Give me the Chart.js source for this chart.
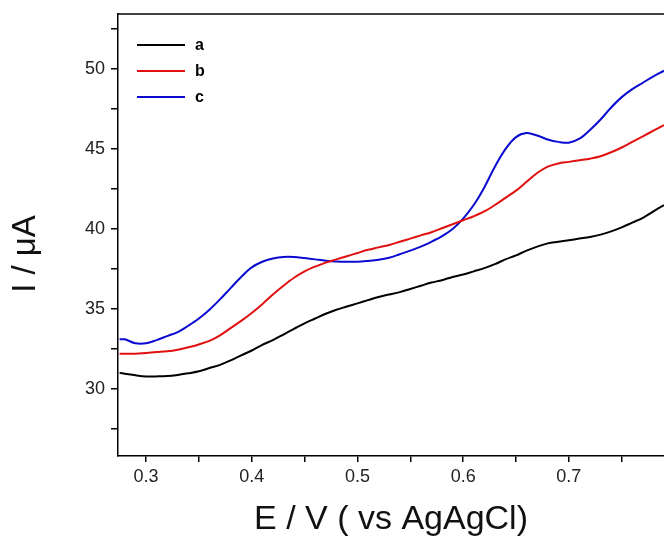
<!DOCTYPE html>
<html>
<head>
<meta charset="utf-8">
<script src="https://cdn.jsdelivr.net/npm/chart.js@4"></script>
<style>
  html, body { margin: 0; padding: 0; background: #fff; }
  #wrap { width: 664px; height: 540px; }
</style>
</head>
<body>
<div id="wrap"><canvas id="dpvChart" width="664" height="540"></canvas></div>
<script>
const potentials = [0.275, 0.28, 0.29, 0.30, 0.31, 0.32, 0.33, 0.34, 0.35, 0.36, 0.37, 0.38, 0.39,
  0.40, 0.41, 0.42, 0.43, 0.44, 0.45, 0.46, 0.47, 0.48, 0.49, 0.50, 0.51, 0.52, 0.53, 0.54, 0.55,
  0.56, 0.57, 0.58, 0.59, 0.60, 0.61, 0.62, 0.63, 0.64, 0.65, 0.66, 0.67, 0.68, 0.69, 0.70, 0.71,
  0.72, 0.73, 0.74, 0.75, 0.76, 0.77, 0.78, 0.79];

const currentA = [31.0, 30.95, 30.85, 30.78, 30.78, 30.8, 30.87, 30.97, 31.1, 31.3, 31.5, 31.78, 32.1,
  32.4, 32.75, 33.05, 33.4, 33.75, 34.1, 34.4, 34.7, 34.95, 35.15, 35.35, 35.55, 35.75, 35.9, 36.05, 36.25,
  36.45, 36.65, 36.8, 37.0, 37.15, 37.35, 37.55, 37.8, 38.1, 38.35, 38.65, 38.9, 39.1, 39.2, 39.3, 39.4,
  39.5, 39.65, 39.85, 40.1, 40.4, 40.7, 41.1, 41.5];

const currentB = [32.2, 32.2, 32.2, 32.25, 32.3, 32.35, 32.45, 32.6, 32.78, 33.0, 33.35, 33.8, 34.25,
  34.75, 35.3, 35.9, 36.45, 36.95, 37.35, 37.65, 37.9, 38.1, 38.3, 38.5, 38.7, 38.85, 39.0, 39.2, 39.4,
  39.6, 39.8, 40.05, 40.3, 40.55, 40.8, 41.1, 41.5, 41.95, 42.4, 42.95, 43.5, 43.9, 44.1, 44.2, 44.3,
  44.4, 44.55, 44.8, 45.1, 45.45, 45.8, 46.15, 46.5];

const currentC = [33.1, 33.1, 32.85, 32.85, 33.05, 33.3, 33.55, 33.95, 34.4, 34.95, 35.6, 36.3, 37.0,
  37.6, 37.95, 38.15, 38.25, 38.25, 38.18, 38.1, 38.02, 37.97, 37.95, 37.95, 38.0, 38.07, 38.2, 38.42, 38.65,
  38.9, 39.2, 39.55, 40.0, 40.65, 41.5, 42.6, 43.9, 45.0, 45.75, 46.0, 45.85, 45.6, 45.45, 45.4, 45.65,
  46.2, 46.85, 47.6, 48.25, 48.75, 49.15, 49.55, 49.9];

const seriesLabels = ['a', 'b', 'c'];
const seriesColors = ['#000000', '#e01010', '#0a0ad0'];

const xTicks = [0.3, 0.35, 0.4, 0.45, 0.5, 0.55, 0.6, 0.65, 0.7, 0.75];
const yTicks = [27.5, 30, 32.5, 35, 37.5, 40, 42.5, 45, 47.5, 50, 52.5];

const yTitle = 'I / μA';

/*............ build datasets ............*/
const allCurrents = [currentA, currentB, currentC];
const datasets = allCurrents.map((ys, i) => ({
  label: seriesLabels[i],
  data: potentials.map((x, j) => ({ x: x, y: ys[j] })),
  borderColor: seriesColors[i],
  borderWidth: 2,
  pointRadius: 0,
  tension: 0.35,
  fill: false
}));

// top frame line, legend and the y title drawn by hand, like the original
const framePlugin = {
  id: 'frame',
  afterDraw(chart) {
    const c = chart.ctx;
    const a = chart.chartArea;
    c.save();
    c.strokeStyle = '#000';
    c.lineWidth = 1.5;
    c.beginPath();
    c.moveTo(a.left, a.top);
    c.lineTo(a.right, a.top);
    c.stroke();

    c.font = 'bold 16px "Liberation Sans", Arial, sans-serif';
    c.textBaseline = 'middle';
    chart.data.datasets.forEach((ds, i) => {
      const y = a.top + 31 + i * 26;
      c.strokeStyle = ds.borderColor;
      c.lineWidth = 2.2;
      c.beginPath();
      c.moveTo(a.left + 19, y);
      c.lineTo(a.left + 67, y);
      c.stroke();
      c.fillStyle = '#000';
      c.fillText(ds.label, a.left + 77, y + 1);
    });

    // y axis title
    c.translate(26, 254);
    c.rotate(-Math.PI / 2);
    c.font = '33px "Liberation Sans", Arial, sans-serif';
    c.textAlign = 'center';
    c.textBaseline = 'middle';
    c.fillStyle = '#111';
    c.fillText(yTitle, 0, 0);
    c.restore();
  }
};

const isMajor = (v, step) => Math.abs(v / step - Math.round(v / step)) < 1e-6;

const config = {
  type: 'line',
  data: { datasets: datasets },
  options: {
    responsive: false,
    animation: false,
    layout: { padding: { top: 14, right: 0, left: 0, bottom: 0 } },
    plugins: {
      legend: { display: false },
      tooltip: { enabled: false }
    },
    scales: {
      x: {
        type: 'linear',
        min: 0.2735,
        max: 0.79,
        afterBuildTicks: (scale) => { scale.ticks = xTicks.map(v => ({ value: v })); },
        afterFit: (scale) => { scale.height = 84; scale.paddingRight = 0; },
        border: { display: true, color: '#000', width: 1.5 },
        grid: { display: true, drawOnChartArea: false, drawTicks: true, tickLength: 6, color: '#000', lineWidth: 1.5 },
        ticks: {
          autoSkip: false,
          maxRotation: 0,
          padding: 4,
          color: '#222',
          font: { family: '"Liberation Sans", Arial, sans-serif', size: 18 },
          callback: (v) => isMajor(v, 0.1) ? v.toFixed(1) : ''
        },
        title: {
          display: true,
          text: 'E / V ( vs AgAgCl)',
          color: '#111',
          padding: { top: 4, bottom: 0 },
          font: { family: '"Liberation Sans", Arial, sans-serif', size: 34 }
        }
      },
      y: {
        type: 'linear',
        min: 25.8,
        max: 53.45,
        afterBuildTicks: (scale) => { scale.ticks = yTicks.map(v => ({ value: v })); },
        afterFit: (scale) => { scale.width = 118; scale.paddingTop = 0; },
        border: { display: true, color: '#000', width: 1.5 },
        grid: { display: true, drawOnChartArea: false, drawTicks: true, tickLength: 7, color: '#000', lineWidth: 1.5 },
        ticks: {
          autoSkip: false,
          padding: 6,
          color: '#222',
          font: { family: '"Liberation Sans", Arial, sans-serif', size: 18 },
          callback: (v) => isMajor(v, 5) ? String(v) : ''
        },
        title: { display: false }
      }
    }
  },
  plugins: [framePlugin]
};

const ctx = document.getElementById('dpvChart').getContext('2d');
const dpvChart = new Chart(ctx, config);
</script>
</body>
</html>
